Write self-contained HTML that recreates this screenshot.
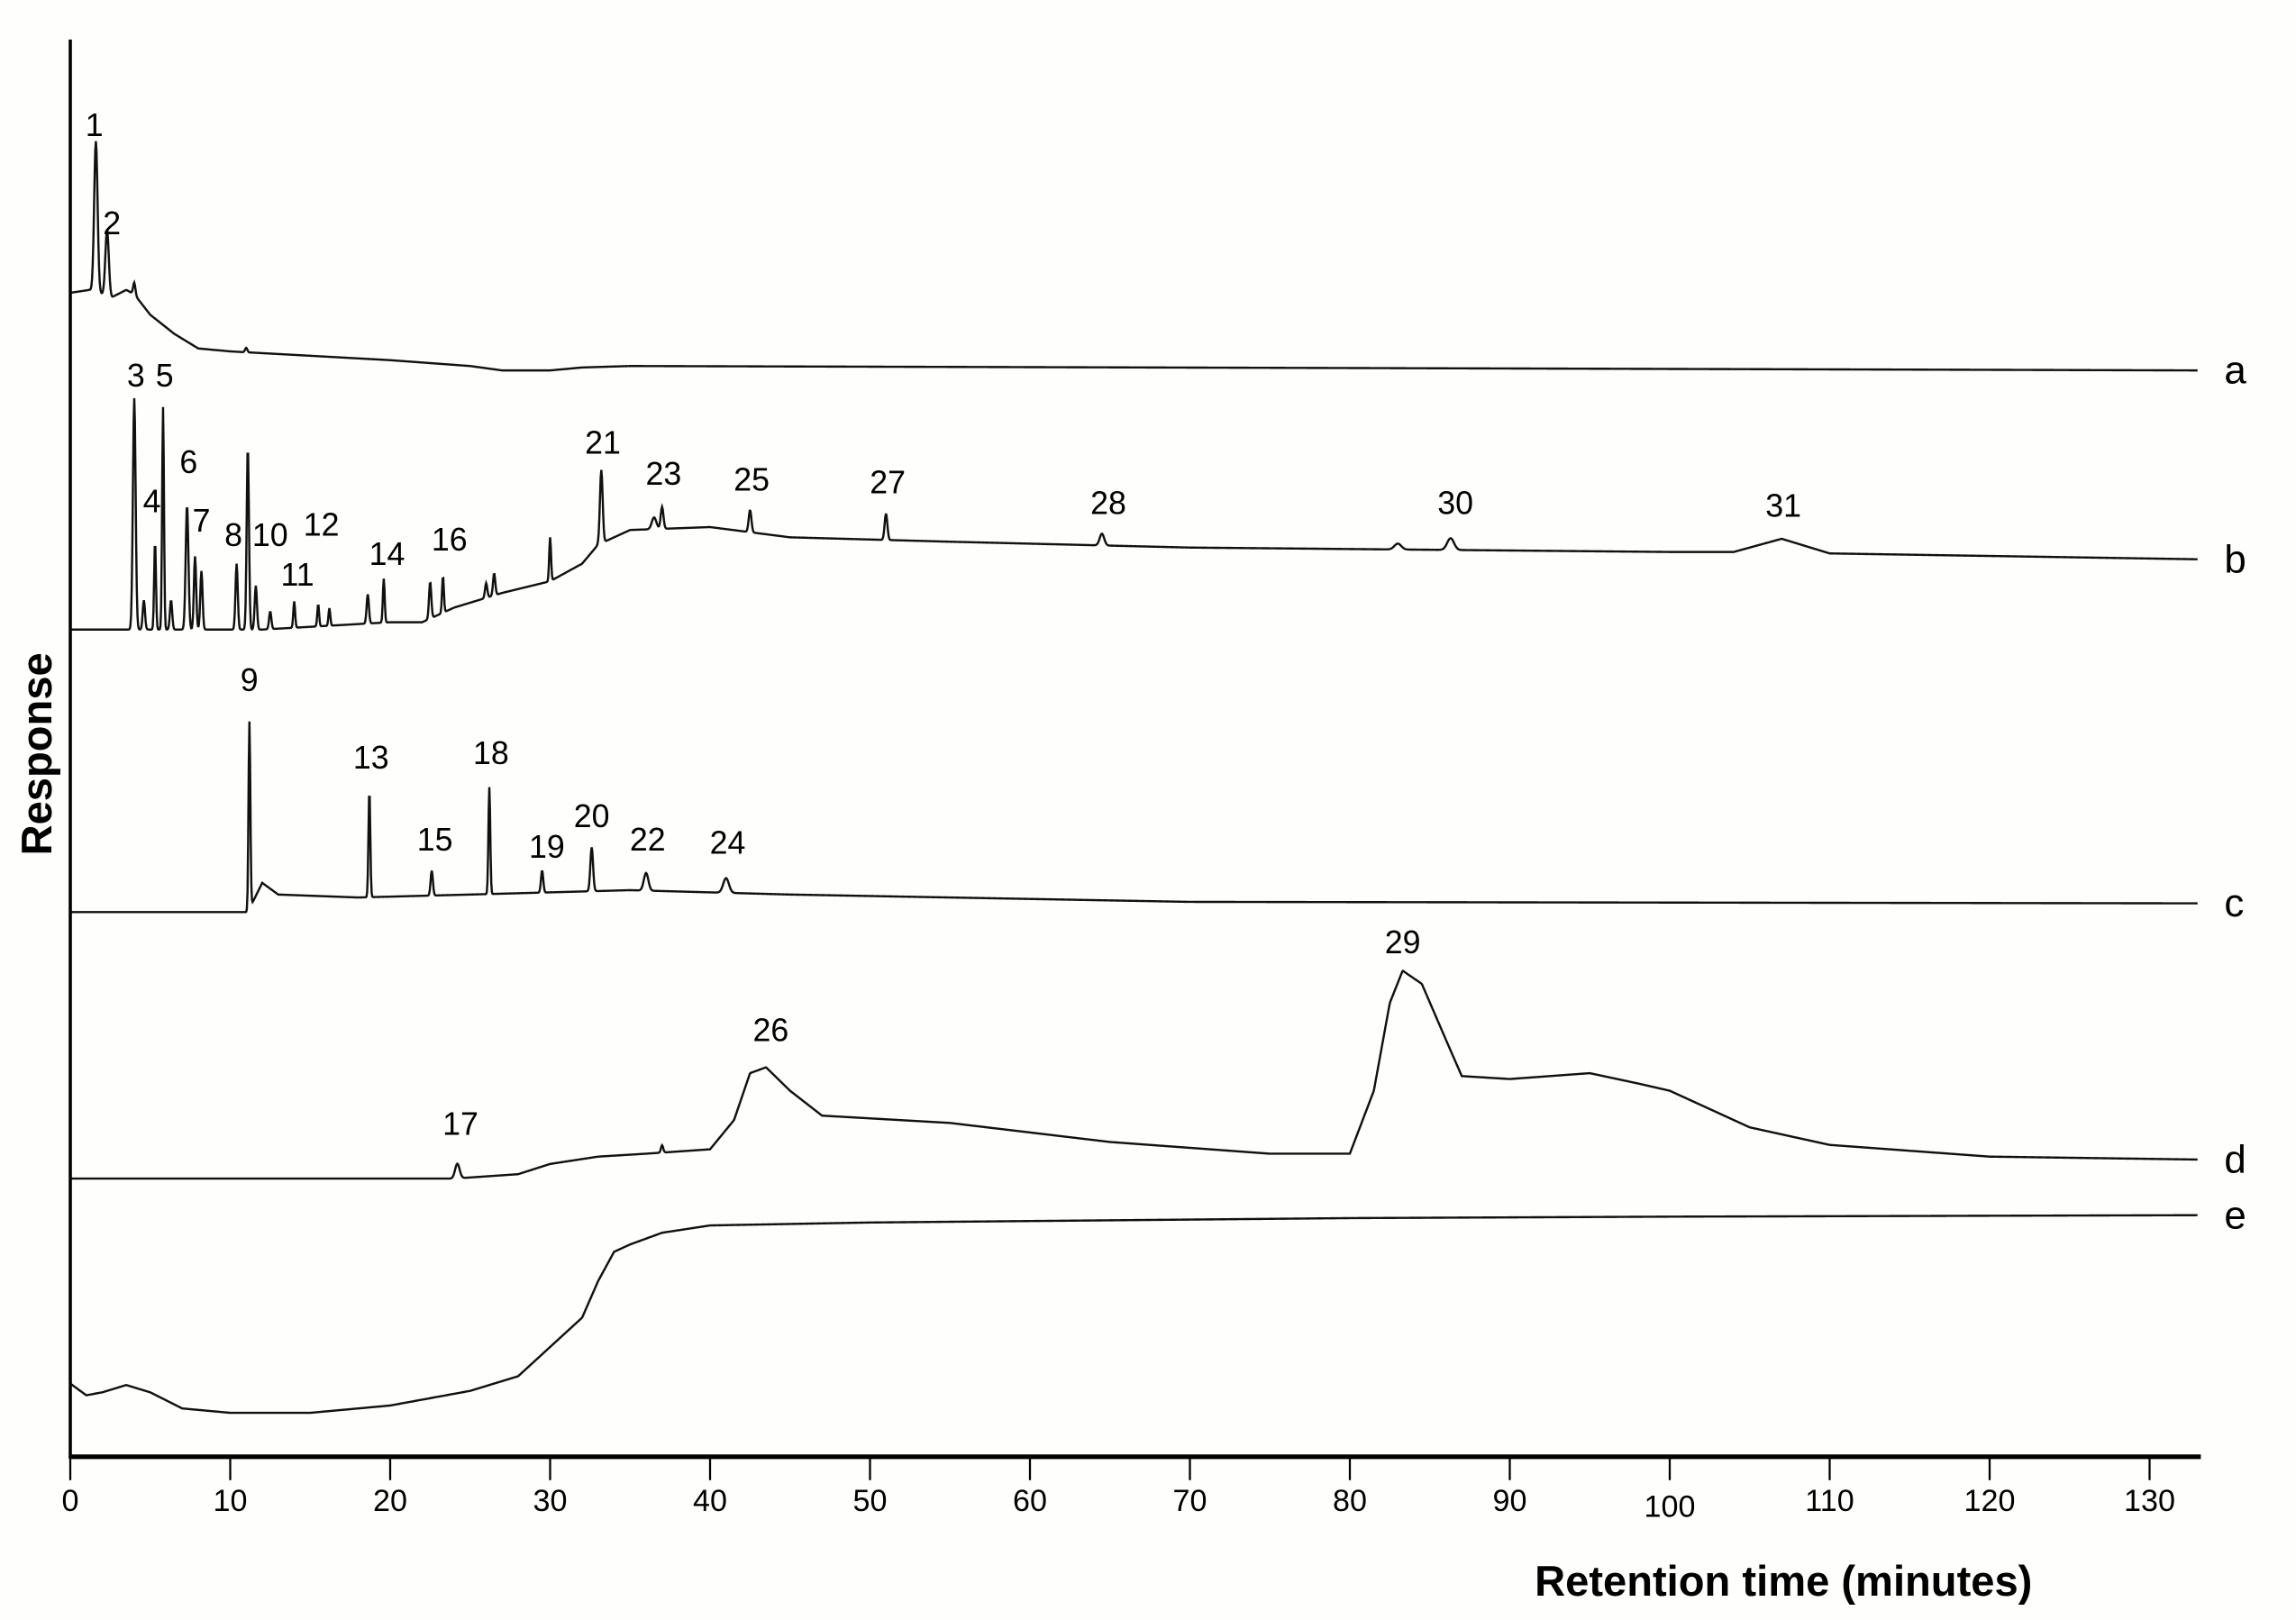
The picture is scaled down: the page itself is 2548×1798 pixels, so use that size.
<!DOCTYPE html>
<html><head><meta charset="utf-8"><style>
html,body{margin:0;padding:0;background:#fefefc;}
svg{display:block;}
text{font-family:"Liberation Sans",Arial,sans-serif;fill:#000;}
</style></head><body>
<svg id="chart" width="2548" height="1798" viewBox="0 0 1568 1106.5" preserveAspectRatio="none" xmlns="http://www.w3.org/2000/svg">
<rect x="0" y="0" width="1568" height="1107" fill="#fefefc"/>
<g id="traces"></g>
<g id="labels"></g>
<g id="axes"></g>
</svg>
<script>
// ---- data (times in minutes, responses in relative units) ----
const xTicks = [0,10,20,30,40,50,60,70,80,90,100,110,120,130];
const traceNames = ["a","b","c","d","e"];
const traceZero = [253,430,623,805,965];

const aBase = [[0,53],[1.2,55],[2.6,50],[3.5,55],[4,52],[5,38],[6.5,25],[8,15],[10,13],[15,10],[20,7],[25,3],[27,0],[30,0],[32,2],[35,3],[133,0]];
const aPeaks = [[1.6,103,0.15],[2.3,45,0.15],[4.0,8,0.1],[11,3,0.1]];

const bBase = [[0,0],[4,0],[12,0],[20,5],[22,5],[24,15],[27,25],[30,33],[32,45],[33,58],[35,68],[40,70],[45,63],[55,60],[70,56],[90,54],[100,53],[104,53],[107,62],[110,52],[133,48]];
const bPeaks = [[4.0,158,0.12],[4.6,20,0.1],[5.3,60,0.08],[5.8,152,0.08],[6.3,20,0.1],[7.3,85,0.12],[7.8,50,0.1],[8.2,40,0.1],[10.4,45,0.1],[11.1,125,0.1],[11.6,30,0.1],[12.5,12,0.1],[14,18,0.08],[15.5,15,0.08],[16.2,12,0.08],[18.6,20,0.1],[19.6,30,0.08],[22.5,25,0.1],[23.3,25,0.08],[26,10,0.1],[26.5,15,0.1],[30,30,0.08],[33.2,50,0.12],[36.5,8,0.2],[37,15,0.12],[42.5,15,0.12],[51,18,0.12],[64.5,8,0.2],[83,4,0.3],[86.3,8,0.3]];

const cBase = [[0,0],[11.1,0],[12,20],[13,12],[18,10],[25,12],[35,15],[45,12],[60,9],[70,7],[133,6]];
const cPeaks = [[11.2,128,0.08],[18.7,73,0.08],[22.6,17,0.1],[26.2,73,0.08],[29.5,15,0.1],[32.6,30,0.12],[36,12,0.2],[41,10,0.25]];

const dBase = [[0,0],[24,0],[28,3],[30,10],[33,15],[36,17],[40,20],[41.5,40],[42.5,72],[43.5,76],[45,60],[47,43],[55,38],[65,25],[75,17],[80,17],[81.5,60],[82.5,120],[83.3,142],[84.5,133],[86,95],[87,70],[90,68],[95,72],[98,65],[100,60],[105,35],[110,23],[120,15],[133,13]];
const dPeaks = [[24.2,10,0.2],[37,5,0.1]];

const eBase = [[0,20],[1,12],[2,14],[3.5,19],[5,14],[7,3],[10,0],[15,0],[20,5],[25,15],[28,25],[30,45],[32,65],[33,90],[34,110],[35,115],[37,123],[40,128],[50,130],[60,131],[80,133],[100,134],[133,135]];
const ePeaks = [];

const peakLabels = ["1","2","3","5","6","4","7","8","10","12","11","14","16","21","23","25","27","28","30","31","9","13","15","18","19","20","22","24","17","26","29"];
const peakLabelX = [1.5,2.6,4.1,5.9,7.4,5.1,8.2,10.2,12.5,15.7,14.2,19.8,23.7,33.3,37.1,42.6,51.1,64.9,86.6,107.1,11.2,18.8,22.8,26.3,29.8,32.6,36.1,41.1,24.4,43.8,83.3];
const peakLabelY = [85,152,256,256,315,342,355,365,365,358,392,378,368,302,323,327,329,343,343,345,464,517,573,514,578,557,573,575,767,703,643];

// ---- scales ----
const x0 = 48, pxPerMin = (1468-48)/130;
function xS(t){ return x0 + t*pxPerMin; }
function yS(v, zero){ return zero - v; }

const NS = "http://www.w3.org/2000/svg";
function interp(base, t){
  for(let i=0;i<base.length-1;i++){
    if(t>=base[i][0] && t<=base[i+1][0]){
      const f=(t-base[i][0])/(base[i+1][0]-base[i][0]||1);
      return base[i][1]+f*(base[i+1][1]-base[i][1]);
    }
  }
  return base[base.length-1][1];
}
const bases=[aBase,bBase,cBase,dBase,eBase];
const peaks=[aPeaks,bPeaks,cPeaks,dPeaks,ePeaks];
const tg=document.getElementById("traces");
for(let k=0;k<5;k++){
  let d="";
  for(let t=0;t<=133.01;t+=0.04){
    let v=interp(bases[k],t);
    for(const p of peaks[k]){ const z=(t-p[0])/p[2]; if(Math.abs(z)<5) v+=p[1]*Math.exp(-z*z); }
    d+=(t===0?"M":"L")+xS(t).toFixed(2)+","+yS(v,traceZero[k]).toFixed(2);
  }
  const path=document.createElementNS(NS,"path");
  path.setAttribute("d",d);
  path.setAttribute("fill","none");
  path.setAttribute("stroke","#111");
  path.setAttribute("stroke-width","1.5");
  
  
  tg.appendChild(path);
  const lab=document.createElementNS(NS,"text");
  lab.setAttribute("x",1519);
  lab.setAttribute("y",yS(interp(bases[k],133),traceZero[k])+9);
  lab.setAttribute("font-size","27");
  lab.textContent=traceNames[k];
  
  
  tg.appendChild(lab);
}
const lg=document.getElementById("labels");
for(let i=0;i<peakLabels.length;i++){
  const tx=document.createElementNS(NS,"text");
  tx.setAttribute("x",xS(peakLabelX[i]).toFixed(1));
  tx.setAttribute("y",peakLabelY[i]+8);
  tx.setAttribute("font-size","22");
  tx.setAttribute("text-anchor","middle");
  tx.textContent=peakLabels[i];
  
  
  lg.appendChild(tx);
}
const ag=document.getElementById("axes");
function add(tag,attrs,name,txt){
  const e=document.createElementNS(NS,tag);
  for(const k in attrs) e.setAttribute(k,attrs[k]);
  if(txt!==undefined) e.textContent=txt;
  
  
  ag.appendChild(e); return e;
}
add("line",{x1:48,y1:27,x2:48,y2:996,stroke:"#000","stroke-width":2.2},"y-axis-line");
add("line",{x1:47,y1:995,x2:1503,y2:995,stroke:"#000","stroke-width":3.2},"x-axis-line");
for(const t of xTicks){
  add("line",{x1:xS(t),y1:995,x2:xS(t),y2:1011,stroke:"#000","stroke-width":1.4},"x-tick-"+t);
  add("text",{x:xS(t),y:t===100?1036:1032,"font-size":"21","text-anchor":"middle"},"x-tick-label-"+t,String(t));
}
add("text",{x:1218,y:1090,"font-size":"29","font-weight":"bold","text-anchor":"middle"},"x-axis-title","Retention time (minutes)");
add("text",{x:0,y:0,"font-size":"29","font-weight":"bold","text-anchor":"middle",transform:"translate(35,515) rotate(-90)"},"y-axis-title","Response");
</script>
</body></html>
